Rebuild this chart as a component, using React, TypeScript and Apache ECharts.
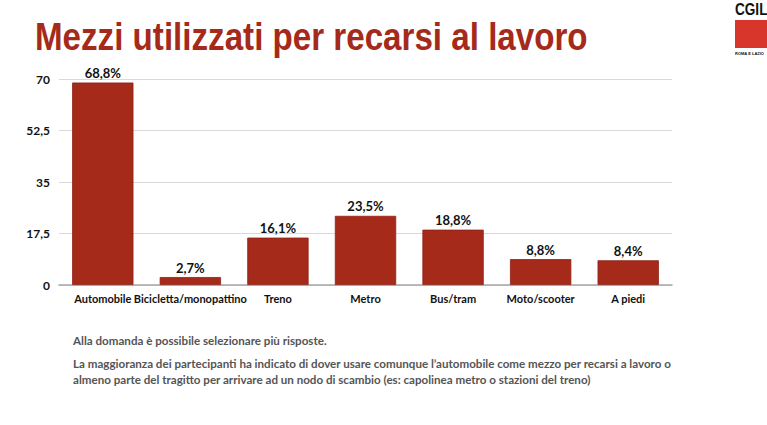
import React, { useEffect, useRef } from "react";
import * as echarts from "echarts";

const categories = ["Automobile", "Bicicletta/monopattino", "Treno", "Metro", "Bus/tram", "Moto/scooter", "A piedi"];
const values = [68.8, 2.7, 16.1, 23.5, 18.8, 8.8, 8.4];
const yTicks = [0, 17.5, 35, 52.5, 70];
const titleText = "Mezzi utilizzati per recarsi al lavoro";
const note1 = "Alla domanda è possibile selezionare più risposte.";
const note2a = "La maggioranza dei partecipanti ha indicato di dover usare comunque l’automobile come mezzo per recarsi a lavoro o";
const note2b = "almeno parte del tragitto per arrivare ad un nodo di scambio (es: capolinea metro o stazioni del treno)";

const RED = "#a52a1a";
const FONT = "Lato, 'DejaVu Sans', sans-serif";

const fmt = (v: number) => String(v).replace(".", ",");

export default function App() {
  const ref = useRef<HTMLDivElement>(null);
  useEffect(() => {
    if (!ref.current) return;
    const chart = echarts.init(ref.current, undefined, { renderer: "svg" });
    chart.setOption({
      animation: false,
      backgroundColor: "#ffffff",
      grid: { left: 59, top: 79, width: 613, height: 206, containLabel: false },
      xAxis: {
        type: "category",
        data: categories,
        axisLine: { lineStyle: { color: "#a6a6a6", width: 1.5 } },
        axisTick: { show: false },
        axisLabel: {
          interval: 0,
          color: "#111",
          fontSize: 11,
          fontWeight: "bold",
          fontFamily: FONT,
          margin: 8,
        },
      },
      yAxis: {
        type: "value",
        min: 0,
        max: 70,
        interval: 17.5,
        axisLine: { show: false },
        axisTick: { show: false },
        splitLine: { lineStyle: { color: "#d9d9d9", width: 1 } },
        axisLabel: {
          color: "#111",
          fontSize: 12,
          fontWeight: "bold",
          fontFamily: FONT,
          margin: 9,
          formatter: (v: number) => (yTicks.includes(v) ? fmt(v) : ""),
        },
      },
      series: [
        {
          type: "bar",
          data: values,
          barWidth: "70%",
          itemStyle: { color: RED, borderColor: "#8e2214", borderWidth: 0.8 },
          label: {
            show: true,
            position: "top",
            distance: 3,
            color: "#111",
            fontSize: 13,
            fontWeight: "bold",
            fontFamily: FONT,
            formatter: (p: any) => fmt(p.value) + "%",
          },
        },
      ],
      graphic: [
        {
          type: "text",
          x: 35,
          y: 56,
          scaleX: 0.85,
          style: {
            text: titleText,
            fill: RED,
            font: "bold 39px 'Liberation Sans', Arial, sans-serif",
            textVerticalAlign: "bottom",
          },
        },
        {
          type: "text",
          x: 735,
          y: 2,
          scaleX: 0.85,
          style: { text: "CGIL", fill: "#111", font: "900 16px 'Liberation Sans', sans-serif" },
        },
        { type: "rect", shape: { x: 735, y: 20, width: 40, height: 28 }, style: { fill: "#d8362b" } },
        {
          type: "text",
          x: 735,
          y: 51,
          style: { text: "ROMA E LAZIO", fill: "#111", font: "bold 4px 'Liberation Sans', sans-serif" },
        },
        {
          type: "text",
          x: 73,
          y: 334,
          style: { text: note1, fill: "#555", font: `bold 11.6px ${FONT}` },
        },
        {
          type: "text",
          x: 73,
          y: 357,
          style: { text: note2a, fill: "#555", font: `bold 11.6px ${FONT}` },
        },
        {
          type: "text",
          x: 73,
          y: 373,
          style: { text: note2b, fill: "#555", font: `bold 11.6px ${FONT}` },
        },
      ],
    });
    return () => chart.dispose();
  }, []);
  return <div ref={ref} style={{ position: "fixed", left: 0, top: 0, width: 767, height: 425 }} />;
}
